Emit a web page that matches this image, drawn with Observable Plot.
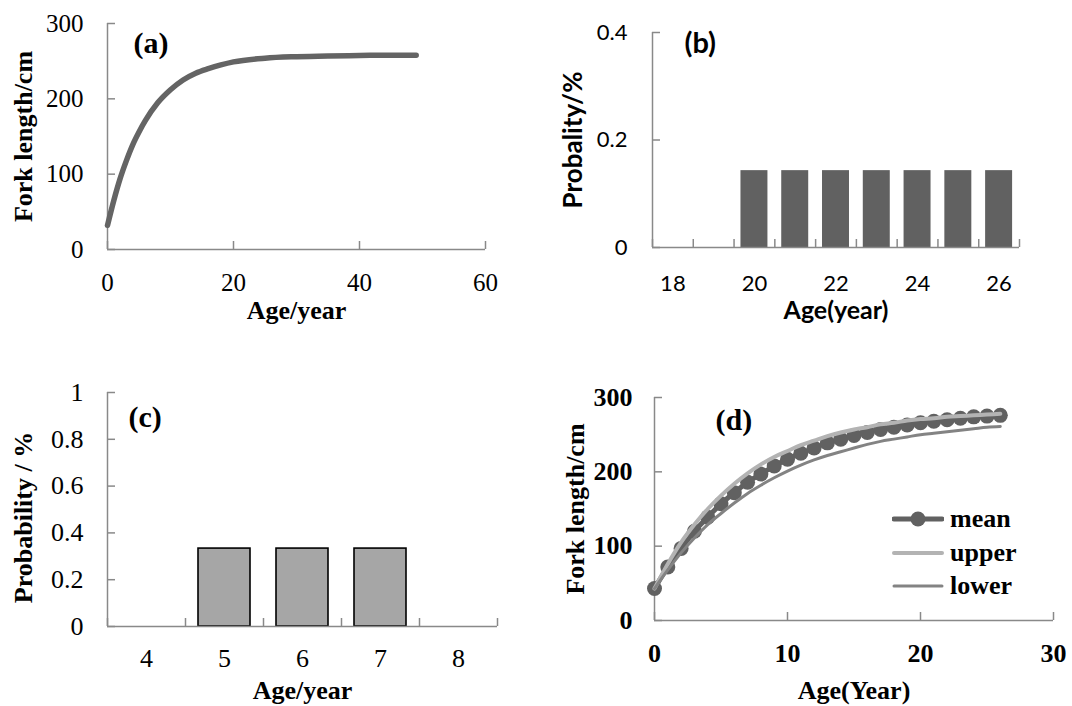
<!DOCTYPE html>
<html><head><meta charset="utf-8">
<script src="https://cdn.jsdelivr.net/npm/d3@7"></script>
<script src="https://cdn.jsdelivr.net/npm/@observablehq/plot@0.6"></script>
<style>
html,body{margin:0;padding:0;background:#fff;}
#root{position:relative;width:1072px;height:706px;overflow:hidden;background:#fff;}
.panel{position:absolute;}
.legrow{position:absolute;left:892px;height:34px;display:flex;align-items:center;font-family:"Liberation Serif","Times New Roman",serif;font-weight:bold;font-size:26px;color:#000;}
.legrow svg{margin-right:6px;}
</style></head><body><div id="root"></div>
<script>
// ---------- data ----------
// (a) growth curve
const ageA = [0, 1, 2, 3, 4, 5, 6, 8, 10, 12, 14, 16, 18, 20, 25, 30, 35, 40, 45, 49];
const lengthA = [32, 65, 94, 118, 139, 156, 171, 195, 212, 225, 234, 240, 245, 249, 254, 256, 257, 257.5, 258, 258];
const ticksAX = [0, 20, 40, 60];
const ticksAY = [0, 100, 200, 300];
// (b) probability by age
const ageB = [20, 21, 22, 23, 24, 25, 26];
const probB = [0.143, 0.143, 0.143, 0.143, 0.143, 0.143, 0.143];
const labelsBX = [18, 20, 22, 24, 26];
const edgesBX = [17.5, 18.5, 19.5, 20.5, 21.5, 22.5, 23.5, 24.5, 25.5, 26.5];
const ticksBY = [0, 0.2, 0.4];
// (c) probability by age
const ageC = [5, 6, 7];
const probC = [0.333, 0.333, 0.333];
const labelsCX = [4, 5, 6, 7, 8];
const edgesCX = [3.5, 4.5, 5.5, 6.5, 7.5, 8.5];
const ticksCY = [0, 0.2, 0.4, 0.6, 0.8, 1];
// (d) mean / upper / lower growth
const ageD = [0,1,2,3,4,5,6,7,8,9,10,11,12,13,14,15,16,17,18,19,20,21,22,23,24,25,26];
const meanD = [43,72,97,120,139,157,172,186,197,208,217,225,232,239,244,249,253,257,260,263,266,268,270,272,274,275,276];
const upperD = [43,76,105,129,150,168,184,198,210,220,228,236,242,248,253,257,260,264,266,269,271,272,274,275,276,277,278];
const lowerD = [43,68,91,111,129,144,158,171,182,192,201,209,216,222,227,232,237,241,244,247,250,252,254,256,258,260,261];
const ticksDX = [0, 10, 20, 30];
const ticksDY = [0, 100, 200, 300];

// ---------- style ----------
const SERIF = '"Liberation Serif","Times New Roman",serif';
const SANS = 'Lato,"Open Sans",sans-serif';
const AXIS = "#898989";
const fmt = d => String(d);
const root = document.getElementById("root");
function place(svg, left, top) {
  const d = document.createElement("div");
  d.className = "panel";
  d.style.left = left + "px"; d.style.top = top + "px";
  d.appendChild(svg); root.appendChild(d);
}
function frameAxes(xmin) {
  return [
    Plot.ruleX([xmin], {stroke: AXIS, strokeWidth: 1.5}),
    Plot.ruleY([0], {stroke: AXIS, strokeWidth: 1.5})
  ];
}
function yTitle(txt, dx, dy, font, size) {
  return Plot.text([txt], {frameAnchor: "left", dx, dy, rotate: -90, textAnchor: "middle", lineAnchor: "middle", fontSize: size, fontWeight: "bold", fontFamily: font, fill: "#000"});
}
function xTitle(txt, dy, font, size) {
  return Plot.text([txt], {frameAnchor: "bottom", dy, textAnchor: "middle", lineAnchor: "middle", fontSize: size, fontWeight: "bold", fontFamily: font, fill: "#000"});
}
function tag(txt, dx, dy, font, size) {
  return Plot.text([txt], {frameAnchor: "top-left", dx, dy, textAnchor: "start", lineAnchor: "middle", fontSize: size, fontWeight: "bold", fontFamily: font, fill: "#000"});
}

// ---------- (a) ----------
const dataA = ageA.map((a, i) => ({age: a, len: lengthA[i]}));
place(Plot.plot({
  width: 536, height: 340,
  marginLeft: 107, marginRight: 51, marginTop: 23, marginBottom: 91,
  style: {fontFamily: SERIF, color: "#000", background: "transparent"},
  x: {domain: [0, 60]}, y: {domain: [0, 300]},
  marks: [
    ...frameAxes(0),
    Plot.axisX({ticks: ticksAX, tickSize: -8, tickFormat: () => "", stroke: AXIS, strokeWidth: 1.5, label: null}),
    Plot.axisY({ticks: ticksAY, tickSize: -8, tickFormat: () => "", stroke: AXIS, strokeWidth: 1.5, label: null}),
    Plot.axisX({ticks: ticksAX, tickSize: 0, tickPadding: 24, fontSize: 25, fontFamily: SERIF, tickFormat: fmt, label: null}),
    Plot.axisY({ticks: ticksAY, tickSize: 0, tickPadding: 24, fontSize: 25, fontFamily: SERIF, tickFormat: fmt, label: null}),
    Plot.line(dataA, {x: "age", y: "len", stroke: "#646464", strokeWidth: 5.5, curve: "monotone-x"}),
    yTitle("Fork length/cm", -84, 0, SERIF, 26),
    xTitle("Age/year", 61, SERIF, 26),
    tag("(a)", 26, 20, SERIF, 30)
  ]
}), 0, 0);

// ---------- (b) ----------
const dataB = ageB.map((a, i) => ({age: a, p: probB[i]}));
place(Plot.plot({
  width: 536, height: 340,
  marginLeft: 116, marginRight: 53, marginTop: 32, marginBottom: 93,
  style: {fontFamily: SANS, color: "#000", background: "transparent"},
  x: {domain: [17.5, 26.5]}, y: {domain: [0, 0.4]},
  marks: [
    Plot.rectY(dataB, {x1: d => d.age - 0.5, x2: d => d.age + 0.5, y: "p", insetLeft: 6.9, insetRight: 6.9, fill: "#616161"}),
    ...frameAxes(17.5),
    Plot.axisX({ticks: edgesBX, tickSize: -8, tickFormat: () => "", stroke: AXIS, strokeWidth: 1.5, label: null}),
    Plot.axisY({ticks: ticksBY, tickSize: -8, tickFormat: () => "", stroke: AXIS, strokeWidth: 1.5, label: null}),
    Plot.axisX({ticks: labelsBX, tickSize: 0, tickPadding: 28, fontSize: 22, fontFamily: SANS, tickFormat: fmt, label: null}),
    Plot.axisY({ticks: ticksBY, tickSize: 0, tickPadding: 25, fontSize: 22, fontFamily: SANS, tickFormat: fmt, label: null}),
    yTitle("Probality/%", -79, 0, SANS, 26),
    xTitle("Age(year)", 63, SANS, 25),
    tag("(b)", 32, 11, SANS, 29)
  ]
}), 536, 0);

// ---------- (c) ----------
const dataC = ageC.map((a, i) => ({age: a, p: probC[i]}));
place(Plot.plot({
  width: 536, height: 353,
  marginLeft: 107, marginRight: 39, marginTop: 39, marginBottom: 80,
  style: {fontFamily: SERIF, color: "#000", background: "transparent"},
  x: {domain: [3.5, 8.5]}, y: {domain: [0, 1]},
  marks: [
    Plot.rectY(dataC, {x1: d => d.age - 0.5, x2: d => d.age + 0.5, y: "p", insetLeft: 13, insetRight: 13, fill: "#a6a6a6", stroke: "#000", strokeWidth: 1.6}),
    ...frameAxes(3.5),
    Plot.axisX({ticks: edgesCX, tickSize: -8, tickFormat: () => "", stroke: AXIS, strokeWidth: 1.5, label: null}),
    Plot.axisY({ticks: ticksCY, tickSize: -8, tickFormat: () => "", stroke: AXIS, strokeWidth: 1.5, label: null}),
    Plot.axisX({ticks: labelsCX, tickSize: 0, tickPadding: 22, fontSize: 26, fontFamily: SERIF, tickFormat: fmt, label: null}),
    Plot.axisY({ticks: ticksCY, tickSize: 0, tickPadding: 24, fontSize: 26, fontFamily: SERIF, tickFormat: fmt, label: null}),
    yTitle("Probability / %", -84, 8, SERIF, 26),
    xTitle("Age/year", 64, SERIF, 26),
    tag("(c)", 21, 25, SERIF, 30)
  ]
}), 0, 353);

// ---------- (d) ----------
const dataD = ageD.map((a, i) => ({age: a, mean: meanD[i], upper: upperD[i], lower: lowerD[i]}));
place(Plot.plot({
  width: 536, height: 353,
  marginLeft: 118, marginRight: 19, marginTop: 44, marginBottom: 86,
  style: {fontFamily: SERIF, color: "#000", background: "transparent"},
  x: {domain: [0, 30]}, y: {domain: [0, 300]},
  marks: [
    ...frameAxes(0),
    Plot.axisX({ticks: ticksDX, tickSize: -8, tickFormat: () => "", stroke: AXIS, strokeWidth: 1.5, label: null}),
    Plot.axisY({ticks: ticksDY, tickSize: -8, tickFormat: () => "", stroke: AXIS, strokeWidth: 1.5, label: null}),
    Plot.axisX({ticks: ticksDX, tickSize: 0, tickPadding: 23, fontSize: 26, fontWeight: "bold", fontFamily: SERIF, tickFormat: fmt, label: null}),
    Plot.axisY({ticks: ticksDY, tickSize: 0, tickPadding: 22, fontSize: 26, fontWeight: "bold", fontFamily: SERIF, tickFormat: fmt, label: null}),
    Plot.line(dataD, {x: "age", y: "mean", stroke: "#616161", strokeWidth: 5, curve: "monotone-x"}),
    Plot.dot(dataD, {x: "age", y: "mean", r: 7.5, fill: "#616161"}),
    Plot.line(dataD, {x: "age", y: "upper", stroke: "#b3b3b3", strokeWidth: 4, curve: "monotone-x"}),
    Plot.line(dataD, {x: "age", y: "lower", stroke: "#838383", strokeWidth: 3, curve: "monotone-x"}),
    yTitle("Fork length/cm", -79, 0, SERIF, 26),
    xTitle("Age(Year)", 70, SERIF, 26),
    tag("(d)", 61, 23, SERIF, 30)
  ]
}), 536, 353);

// ---------- legend for (d) ----------
const legendItems = [
  {name: "mean", color: "#616161", width: 5, dot: true, cy: 519},
  {name: "upper", color: "#b3b3b3", width: 4, dot: false, cy: 553},
  {name: "lower", color: "#838383", width: 3, dot: false, cy: 586}
];
for (const it of legendItems) {
  const row = document.createElement("div");
  row.className = "legrow";
  row.style.top = (it.cy - 17) + "px";
  const ns = "http://www.w3.org/2000/svg";
  const s = document.createElementNS(ns, "svg");
  s.setAttribute("width", 52); s.setAttribute("height", 20);
  const ln = document.createElementNS(ns, "line");
  ln.setAttribute("x1", 2); ln.setAttribute("x2", 50); ln.setAttribute("y1", 10); ln.setAttribute("y2", 10);
  ln.setAttribute("stroke", it.color); ln.setAttribute("stroke-width", it.width); ln.setAttribute("stroke-linecap", "round");
  s.appendChild(ln);
  if (it.dot) {
    const c = document.createElementNS(ns, "circle");
    c.setAttribute("cx", 26); c.setAttribute("cy", 10); c.setAttribute("r", 7.5); c.setAttribute("fill", it.color);
    s.appendChild(c);
  }
  row.appendChild(s);
  const t = document.createElement("span");
  t.textContent = it.name;
  row.appendChild(t);
  root.appendChild(row);
}
</script></body></html>
